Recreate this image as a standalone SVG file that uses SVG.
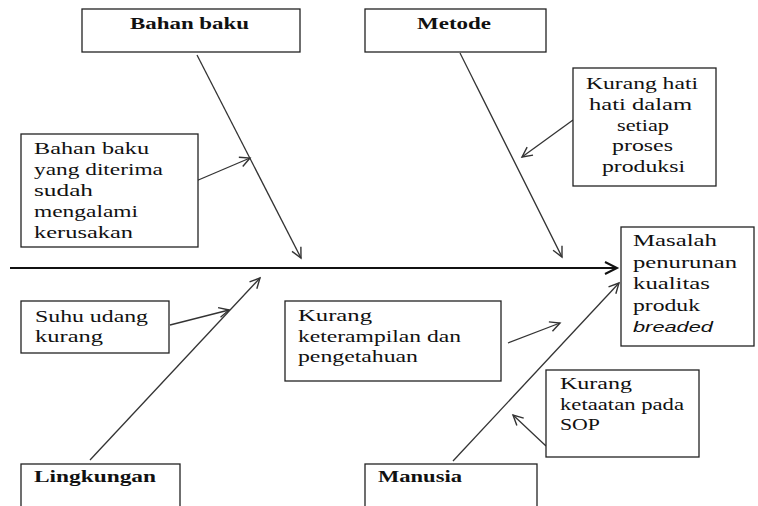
<svg xmlns="http://www.w3.org/2000/svg" width="758" height="506" viewBox="0 0 758 506">
<defs>
<style>
.box{fill:#fff;stroke:#222;stroke-width:1.3}
.t{font-family:"Liberation Serif","DejaVu Serif","Times New Roman",serif;font-size:16.5px;fill:#111}
.b{font-weight:bold}
.i{font-style:italic;font-family:"Liberation Sans","DejaVu Sans",Arial,sans-serif;font-size:15px}
.ln{stroke:#333;stroke-width:1.3;fill:none}
.spine{stroke:#111;stroke-width:2.2;fill:none}
</style>
<marker id="ah" markerUnits="userSpaceOnUse" markerWidth="16" markerHeight="16" refX="11" refY="6" orient="auto">
<path d="M1,1 L11,6 L1,11" fill="none" stroke="#333" stroke-width="1.4"/>
</marker>
<marker id="ahs" markerUnits="userSpaceOnUse" markerWidth="18" markerHeight="18" refX="13" refY="7" orient="auto">
<path d="M1,1 L13,7 L1,13" fill="none" stroke="#111" stroke-width="2"/>
</marker>
</defs>
<rect width="758" height="506" fill="#fff"/>

<g id="connectors">
<line class="spine" x1="10" y1="268" x2="617" y2="268" marker-end="url(#ahs)"/>
<line class="ln" x1="197" y1="55" x2="301" y2="258" marker-end="url(#ah)"/>
<line class="ln" x1="460" y1="53" x2="562" y2="257" marker-end="url(#ah)"/>
<line class="ln" x1="90" y1="460" x2="260" y2="278" marker-end="url(#ah)"/>
<line class="ln" x1="453" y1="461" x2="619" y2="283" marker-end="url(#ah)"/>
<line class="ln" x1="196" y1="181" x2="250" y2="158" marker-end="url(#ah)"/>
<line class="ln" x1="573" y1="120" x2="522" y2="157" marker-end="url(#ah)"/>
<line class="ln" x1="170" y1="325" x2="229" y2="310" marker-end="url(#ah)"/>
<line class="ln" x1="508" y1="343" x2="560" y2="323" marker-end="url(#ah)"/>
<line class="ln" x1="546" y1="446" x2="513" y2="415" marker-end="url(#ah)"/>
</g>

<g id="bahan-baku">
<rect class="box" x="82" y="9" width="218" height="43"/>
<text class="t b" x="130" y="29" textLength="119" lengthAdjust="spacingAndGlyphs">Bahan baku</text>
</g>

<g id="metode">
<rect class="box" x="365" y="9" width="181" height="43"/>
<text class="t b" x="417" y="29" textLength="74" lengthAdjust="spacingAndGlyphs">Metode</text>
</g>

<g id="bahan-baku-rusak">
<rect class="box" x="21" y="134" width="177" height="113"/>
<text class="t" x="34" y="154" textLength="115" lengthAdjust="spacingAndGlyphs">Bahan baku</text>
<text class="t" x="34" y="175" textLength="129" lengthAdjust="spacingAndGlyphs">yang diterima</text>
<text class="t" x="34" y="196" textLength="59" lengthAdjust="spacingAndGlyphs">sudah</text>
<text class="t" x="34" y="217" textLength="104" lengthAdjust="spacingAndGlyphs">mengalami</text>
<text class="t" x="34" y="238" textLength="99" lengthAdjust="spacingAndGlyphs">kerusakan</text>
</g>

<g id="kurang-hati-hati">
<rect class="box" x="573" y="68" width="143" height="118"/>
<text class="t" x="586" y="89" textLength="112" lengthAdjust="spacingAndGlyphs">Kurang hati</text>
<text class="t" x="589" y="110" textLength="103" lengthAdjust="spacingAndGlyphs">hati dalam</text>
<text class="t" x="617" y="131" textLength="52" lengthAdjust="spacingAndGlyphs">setiap</text>
<text class="t" x="612" y="151" textLength="61" lengthAdjust="spacingAndGlyphs">proses</text>
<text class="t" x="602" y="172" textLength="83" lengthAdjust="spacingAndGlyphs">produksi</text>
</g>

<g id="masalah">
<rect class="box" x="621" y="227" width="133" height="119"/>
<text class="t" x="633" y="246" textLength="84" lengthAdjust="spacingAndGlyphs">Masalah</text>
<text class="t" x="633" y="268" textLength="104" lengthAdjust="spacingAndGlyphs">penurunan</text>
<text class="t" x="633" y="289" textLength="77" lengthAdjust="spacingAndGlyphs">kualitas</text>
<text class="t" x="633" y="311" textLength="67" lengthAdjust="spacingAndGlyphs">produk</text>
<text class="t i" x="633" y="332" textLength="80" lengthAdjust="spacingAndGlyphs">breaded</text>
</g>

<g id="suhu-udang">
<rect class="box" x="21" y="301" width="148" height="52"/>
<text class="t" x="35" y="322" textLength="113" lengthAdjust="spacingAndGlyphs">Suhu udang</text>
<text class="t" x="35" y="342" textLength="68" lengthAdjust="spacingAndGlyphs">kurang</text>
</g>

<g id="kurang-keterampilan">
<rect class="box" x="285" y="301" width="216" height="80"/>
<text class="t" x="298" y="321" textLength="74" lengthAdjust="spacingAndGlyphs">Kurang</text>
<text class="t" x="298" y="342" textLength="163" lengthAdjust="spacingAndGlyphs">keterampilan dan</text>
<text class="t" x="298" y="362" textLength="120" lengthAdjust="spacingAndGlyphs">pengetahuan</text>
</g>

<g id="kurang-ketaatan">
<rect class="box" x="546" y="370" width="153" height="87"/>
<text class="t" x="560" y="389" textLength="72" lengthAdjust="spacingAndGlyphs">Kurang</text>
<text class="t" x="560" y="410" textLength="124" lengthAdjust="spacingAndGlyphs">ketaatan pada</text>
<text class="t" x="560" y="430" textLength="40" lengthAdjust="spacingAndGlyphs">SOP</text>
</g>

<g id="lingkungan">
<rect class="box" x="21" y="464" width="159" height="50"/>
<text class="t b" x="34" y="482" textLength="122" lengthAdjust="spacingAndGlyphs">Lingkungan</text>
</g>

<g id="manusia">
<rect class="box" x="365" y="464" width="172" height="50"/>
<text class="t b" x="378" y="482" textLength="84" lengthAdjust="spacingAndGlyphs">Manusia</text>
</g>
</svg>
